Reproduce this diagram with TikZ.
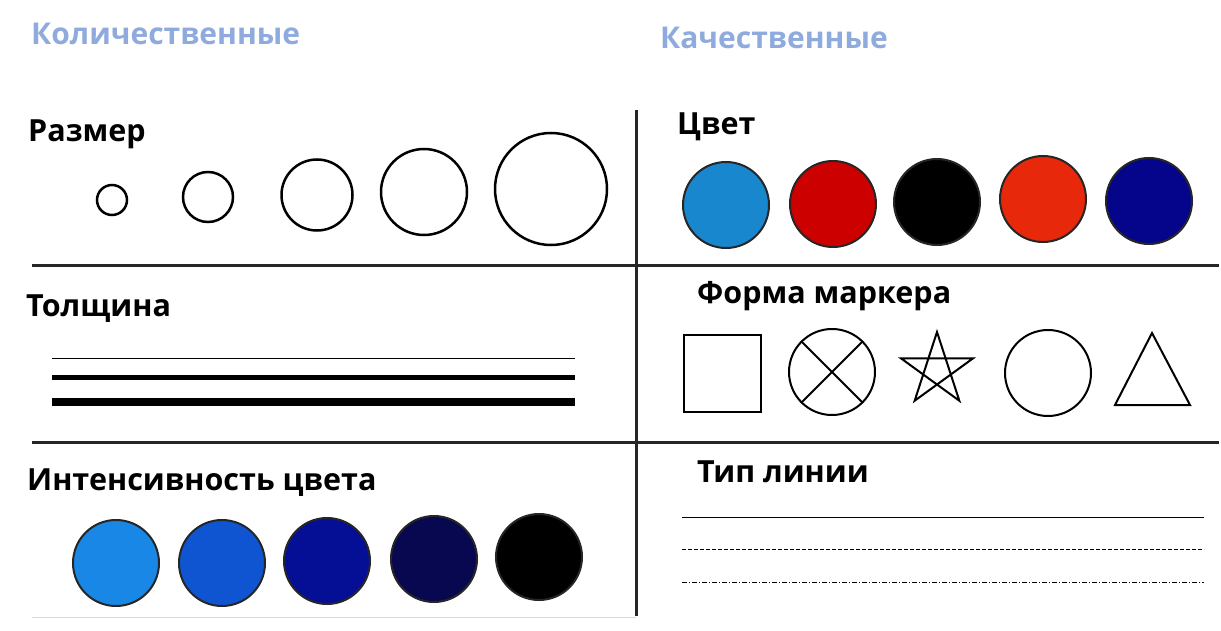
\documentclass[tikz,border=0pt]{standalone}
\usepackage{fontspec}
\setmainfont{Open Sans}
\usepackage{tikz}
\usetikzlibrary{positioning}
\definecolor{titleblue}{RGB}{143,170,220}
\definecolor{skyblue}{RGB}{25,135,205}
\definecolor{markred}{RGB}{205,0,0}
\definecolor{markorange}{RGB}{232,40,10}
\definecolor{marknavy}{RGB}{5,5,140}
\definecolor{tone1}{RGB}{25,135,230}
\definecolor{tone2}{RGB}{15,85,210}
\definecolor{tone3}{RGB}{5,15,150}
\definecolor{tone4}{RGB}{8,8,80}

\begin{document}
\begin{tikzpicture}[x=1pt, y=-1pt,
    heading/.style={anchor=base west, inner sep=0pt, text=titleblue, font=\fontsize{30}{33}\selectfont\bfseries},
    lbl/.style={anchor=base west, inner sep=0pt, font=\fontsize{30.5}{33}\selectfont\bfseries},
    ring/.style={circle, draw, line width=2.5pt, inner sep=0pt},
    dot/.style={circle, draw=black!85, line width=2pt, inner sep=0pt, minimum size=86},
    rule/.style={line width=3pt, black!85}]
  \useasboundingbox (0,0) rectangle (1221,631);

  % Headings
  \node[heading] (quant) at (31,45) {Количественные};
  \node[heading] (qual) at (660,49) {Качественные};

  % Grid
  \draw[rule] (32,265) -- (1219,265);
  \draw[rule] (32,442) -- (1219,442);
  \draw[rule] (636,110) -- (636,616);
  \draw[black!15] (32,617) -- (636,617);

  % Size
  \node[lbl] (size) at (28,142) {Размер};
  \node[ring, minimum size=30] (s1) at (112,200) {};
  \node[ring, minimum size=50] (s2) at (208,197) {};
  \node[ring, minimum size=71] (s3) at (317,195) {};
  \node[ring, minimum size=86] (s4) at (424,192) {};
  \node[ring, minimum size=112] (s5) at (551,189) {};

  % Colour
  \node[lbl] (colour) at (677,135) {Цвет};
  \node[dot, fill=skyblue] (c1) at (726,205) {};
  \node[dot, fill=markred] (c2) at (833,204) {};
  \node[dot, fill=black] (c3) at (937,202) {};
  \node[dot, fill=markorange] (c4) at (1043,199) {};
  \node[dot, fill=marknavy] (c5) at (1149,201) {};

  % Thickness
  \node[lbl] (thick) at (26,316) {Толщина};
  \draw[line width=1pt] (52,358) -- (575,358);
  \draw[line width=5pt] (52,377) -- (575,377);
  \draw[line width=8.5pt] (52,402) -- (575,402);

  % Marker shape
  \node[lbl] (shape) at (697,303) {Форма маркера};
  \draw[line width=2pt] (684,335) rectangle (761,412);
  \node[ring, line width=2pt, minimum size=86] (mx) at (832,372) {};
  \draw[line width=2pt] (mx.45) -- (mx.225) (mx.135) -- (mx.315);
  \draw[line width=2pt, line join=miter, shift={(937,370)}]
    (-90:38) -- (54:38) -- (198:38) -- (342:38) -- (126:38) -- cycle;
  \node[ring, line width=2pt, minimum size=86] (mo) at (1048,373) {};
  \draw[line width=2pt] (1152,333) -- (1190,405) -- (1115,405) -- cycle;

  % Colour intensity
  \node[lbl] (tone) at (27,490) {Интенсивность цвета};
  \node[dot, fill=tone1] (t1) at (116,563) {};
  \node[dot, fill=tone2] (t2) at (222,563) {};
  \node[dot, fill=tone3] (t3) at (327,561) {};
  \node[dot, fill=tone4] (t4) at (434,559) {};
  \node[dot, fill=black] (t5) at (539,557) {};

  % Line type
  \node[lbl] (ltype) at (697,482) {Тип линии};
  \draw[line width=1pt] (682,517) -- (1204,517);
  \draw[line width=0.8pt, dash pattern=on 4pt off 2pt] (682,549) -- (1204,549);
  \draw[line width=0.8pt, dash pattern=on 5pt off 2pt on 1pt off 2pt] (682,582) -- (1204,582);

\end{tikzpicture}
\end{document}
